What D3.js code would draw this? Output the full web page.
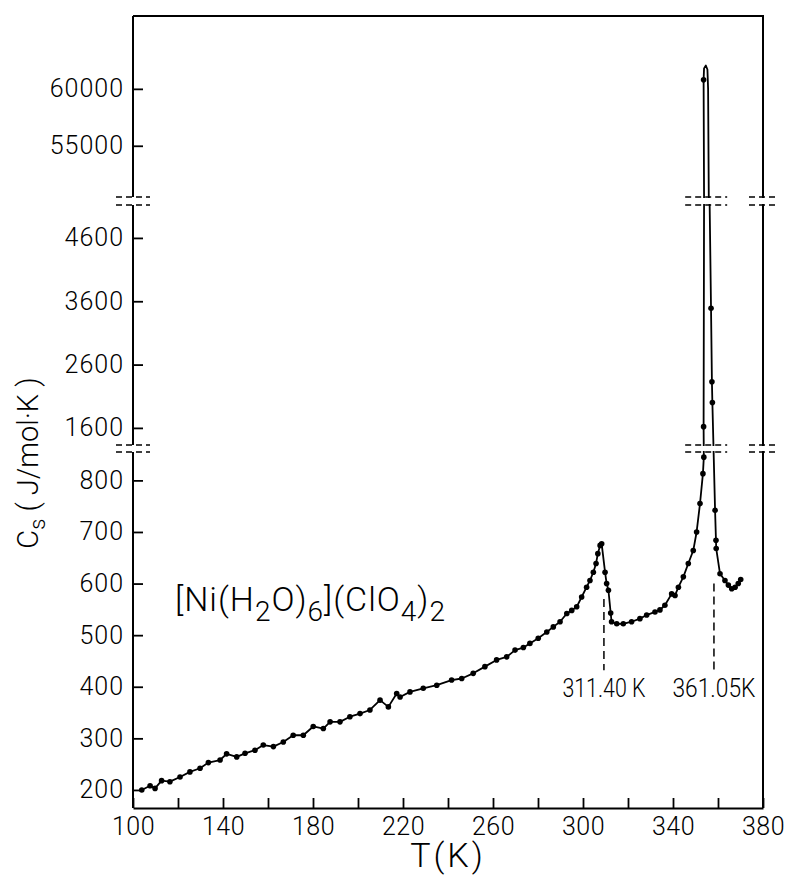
<!DOCTYPE html>
<html>
<head>
<meta charset="utf-8">
<script src="https://cdn.jsdelivr.net/npm/d3@7"></script>
<style>
  body { margin: 0; background: #fff; }
  svg text { font-family: Roboto, 'DejaVu Sans', sans-serif; font-weight: 300; fill: #000; }
</style>
</head>
<body>
<div id="chart"></div>
<script>
// heat capacity readings, [T (K), Cs (J/mol K)]
const baseline = [
  [103.9, 200], [107.6, 208], [109.8, 203], [112.7, 218], [116.4, 216],
  [120.9, 225], [125.3, 235], [129.8, 242], [133.5, 253], [138.7, 258],
  [141.6, 270], [146.1, 264], [149.8, 271], [154.2, 277], [157.9, 287],
  [162.4, 284], [166.8, 293], [171.2, 306], [175.7, 306], [180.1, 323],
  [184.6, 319], [187.6, 332], [192.0, 332], [196.4, 342], [200.9, 348],
  [205.3, 355], [209.8, 374], [213.5, 361], [217.2, 387], [218.7, 380],
  [223.1, 390], [229.0, 397], [235.0, 403], [241.6, 413], [246.1, 416],
  [251.2, 426], [256.4, 439], [261.6, 452], [266.1, 458], [269.8, 471],
  [273.5, 476], [276.4, 484], [280.1, 494], [283.9, 506], [286.8, 516],
  [289.8, 526], [292.8, 542], [295.0, 548], [297.2, 555], [299.4, 574],
  [301.6, 593], [303.1, 606], [304.6, 622], [305.8, 639], [306.6, 658]
];
const firstPeak = [
  [307.6, 674], [308.3, 677], [309.8, 622], [310.5, 600], [311.3, 587],
  [312.3, 543], [312.7, 526], [315.0, 522], [317.9, 522], [321.6, 526],
  [325.3, 532], [328.3, 539], [332.0, 545], [334.2, 549], [336.4, 558],
  [339.4, 580], [340.9, 577], [342.4, 593], [344.6, 613], [346.8, 639],
  [349.0, 664], [350.5, 700], [352.0, 755], [353.3, 813], [353.7, 845],
  [353.6, 1620]
];
// line only, no measured dots drawn on these vertices
const peakTrace = [
  [353.8, 5100], [353.8, 50600], [353.6, 60790], [353.8, 61800],
  [354.6, 62050], [355.3, 61700], [355.6, 60000], [355.9, 50600],
  [356.3, 5100]
];
const peakDots = [[353.6, 60790]];
const secondPeakFall = [
  [356.9, 3490], [357.3, 2330], [357.5, 2000], [358.7, 742], [359.1, 684],
  [359.2, 668], [360.9, 619], [363.1, 606], [364.6, 597], [366.1, 590],
  [367.6, 593], [369.0, 600], [370.1, 608]
];

const xTicks = d3.range(100, 381, 20);
const xLabels = [100, 140, 180, 220, 260, 300, 340, 380];
const yTicksLow = [200, 300, 400, 500, 600, 700, 800];
const yTicksMid = [1600, 2600, 3600, 4600];
const yTicksTop = [55000, 60000];
const transitions = [
  { T: 309.3, label: '311.40 K', from: 432, to: 570 },
  { T: 358.2, label: '361.05K', from: 432, to: 600 }
];

const width = 785;
const height = 877;
const plotLeft = 133;
const plotRight = 763;
const plotTop = 16;
const plotBottom = 808;

const svg = d3
  .select('#chart')
  .append('svg')
  .attr('width', width)
  .attr('height', height);

const x = d3.scaleLinear().domain([100, 380]).range([plotLeft, plotRight]);

// broken y axis: three stacked linear pieces
const yLow = d3.scaleLinear().domain([165, 855]).range([plotBottom, 452]);
const yMid = d3.scaleLinear().domain([1330, 5120]).range([445, 205]);
const yTop = d3.scaleLinear().domain([50500, 66400]).range([197, plotTop]);
const y = v => (v <= 855 ? yLow(v) : v <= 5120 ? yMid(v) : yTop(v));

// data line + dots
const linePts = baseline.concat(firstPeak, peakTrace, secondPeakFall);
const line = d3
  .line()
  .x(d => x(d[0]))
  .y(d => y(d[1]));

svg
  .append('path')
  .datum(linePts)
  .attr('d', line)
  .attr('fill', 'none')
  .attr('stroke', '#000')
  .attr('stroke-width', 1.8)
  .attr('stroke-linejoin', 'round');

svg
  .append('g')
  .selectAll('circle')
  .data(baseline.concat(firstPeak, peakDots, secondPeakFall))
  .enter()
  .append('circle')
  .attr('cx', d => x(d[0]))
  .attr('cy', d => y(d[1]))
  .attr('r', 2.8)
  .attr('fill', '#000');

// transition markers
transitions.forEach(t => {
  svg
    .append('line')
    .attr('x1', x(t.T))
    .attr('x2', x(t.T))
    .attr('y1', yLow(t.to))
    .attr('y2', yLow(t.from))
    .attr('stroke', '#000')
    .attr('stroke-width', 1.5)
    .attr('stroke-dasharray', '8,5');
  svg
    .append('text')
    .text(t.label)
    .attr('x', x(t.T))
    .attr('y', yLow(t.from) + 27)
    .attr('text-anchor', 'middle')
    .attr('textLength', 83)
    .attr('lengthAdjust', 'spacingAndGlyphs')
    .style('font-size', '26px');
});

// frame
svg
  .append('path')
  .attr('d', `M${plotLeft},${plotTop}H${plotRight}V${plotBottom}`)
  .attr('fill', 'none')
  .attr('stroke', '#000')
  .attr('stroke-width', 2);

// x axis
const xAxis = d3
  .axisBottom(x)
  .tickValues(xTicks)
  .tickSize(-10)
  .tickSizeOuter(0)
  .tickPadding(9)
  .tickFormat(d => (xLabels.includes(d) ? d : ''));

const gx = svg
  .append('g')
  .attr('transform', `translate(0,${plotBottom})`)
  .call(xAxis);
gx.select('.domain').attr('stroke-width', 2);
gx.selectAll('line').attr('stroke-width', 1.8);
gx.selectAll('text')
  .style('font-size', '25px')
  .style('letter-spacing', '0.5px')
  .attr('fill', '#000');

// y axis pieces
[
  [yLow, yTicksLow],
  [yMid, yTicksMid],
  [yTop, yTicksTop]
].forEach(([s, ticks]) => {
  const g = svg
    .append('g')
    .attr('transform', `translate(${plotLeft},0)`)
    .call(
      d3
        .axisLeft(s)
        .tickValues(ticks)
        .tickSize(-10)
        .tickSizeOuter(0)
        .tickPadding(9)
        .tickFormat(d3.format('d'))
    );
  g.select('.domain').remove();
  g.selectAll('line').attr('stroke-width', 1.8);
  g.selectAll('text')
    .style('font-size', '25px')
    .style('letter-spacing', '1px')
    .attr('fill', '#000');
  g.append('line')
    .attr('y1', s.range()[0])
    .attr('y2', s.range()[1])
    .attr('stroke', '#000')
    .attr('stroke-width', 2);
});

// axis breaks: blank bands with double dashed marks
const gaps = [
  [yLow.range()[1], yMid.range()[0]],
  [yMid.range()[1], yTop.range()[0]]
];
const peakX = d3.mean(peakTrace, d => x(d[0]));
const breakAt = [
  [plotLeft, 17],
  [peakX, 21],
  [plotRight, 14]
];
gaps.forEach(([y0, y1]) => {
  svg
    .append('rect')
    .attr('x', plotLeft - 20)
    .attr('y', y1 + 1)
    .attr('width', plotRight - plotLeft + 40)
    .attr('height', y0 - y1 - 2)
    .attr('fill', '#fff');
  breakAt.forEach(([cx, hw]) => {
    [y0, y1].forEach(yy => {
      svg
        .append('line')
        .attr('x1', cx - hw)
        .attr('x2', cx + hw)
        .attr('y1', yy)
        .attr('y2', yy)
        .attr('stroke', '#000')
        .attr('stroke-width', 1.5)
        .attr('stroke-dasharray', '6,4');
    });
  });
});

// compound name
const title = svg
  .append('text')
  .attr('x', 175)
  .attr('y', 611)
  .style('font-size', '34px')
  .style('letter-spacing', '1px');
[
  ['[Ni(H', 0],
  ['2', 1],
  ['O)', 0],
  ['6', 1],
  ['](ClO', 0],
  ['4', 1],
  [')', 0],
  ['2', 1]
].forEach(([t, sub], i, arr) => {
  const prevSub = i > 0 && arr[i - 1][1];
  title
    .append('tspan')
    .text(t)
    .attr('dy', sub ? 10 : prevSub ? -10 : 0)
    .style('font-size', sub ? '28px' : '34px');
});

// axis titles
svg
  .append('text')
  .attr('x', 448)
  .attr('y', 867)
  .attr('text-anchor', 'middle')
  .style('font-size', '34px')
  .style('letter-spacing', '3px')
  .text('T(K)');

const yTitle = svg
  .append('text')
  .attr('transform', 'translate(38,463) rotate(-90)')
  .attr('text-anchor', 'middle')
  .style('font-size', '29px');
yTitle.append('tspan').text('C');
yTitle.append('tspan').text('s').attr('dy', 7).style('font-size', '22px');
yTitle.append('tspan').text(' ( J/mol·K )').attr('dy', -7);
</script>
</body>
</html>
